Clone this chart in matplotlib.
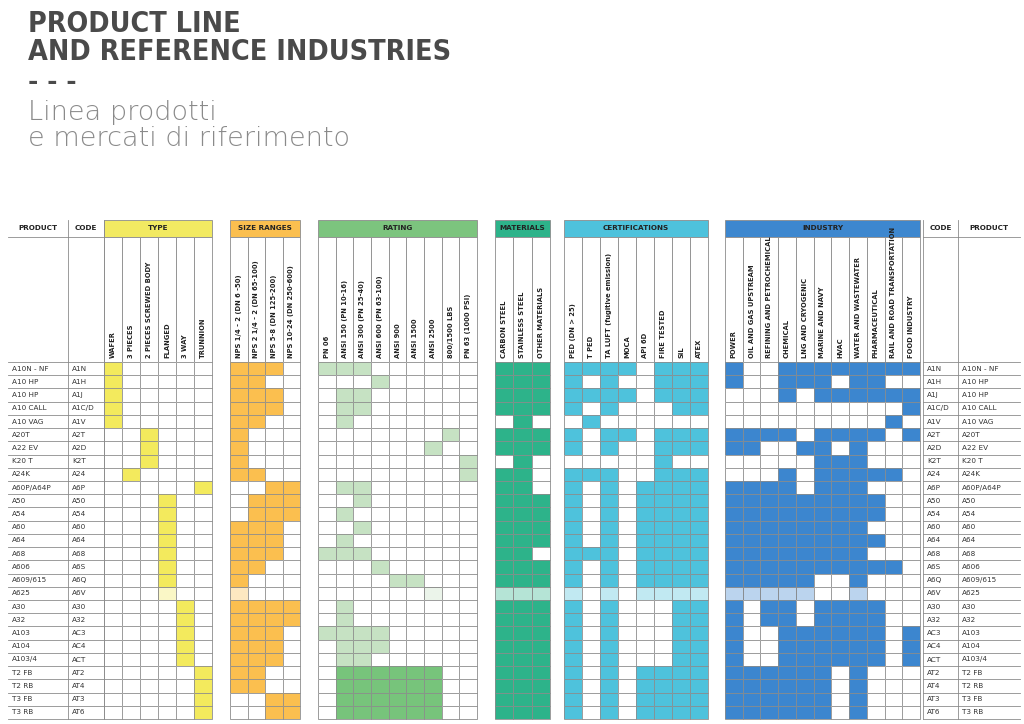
import matplotlib.pyplot as plt
from matplotlib.patches import Rectangle

plt.rcParams['font.family'] = ['DejaVu Sans']

products = ["A10N - NF", "A10 HP", "A10 HP", "A10 CALL", "A10 VAG", "A20T", "A22 EV", "K20 T",
            "A24K", "A60P/A64P", "A50", "A54", "A60", "A64", "A68", "A606", "A609/615", "A625",
            "A30", "A32", "A103", "A104", "A103/4", "T2 FB", "T2 RB", "T3 FB", "T3 RB"]
codes = ["A1N", "A1H", "A1J", "A1C/D", "A1V", "A2T", "A2D", "K2T", "A24", "A6P", "A50", "A54",
         "A60", "A64", "A68", "A6S", "A6Q", "A6V", "A30", "A32", "AC3", "AC4", "ACT", "AT2",
         "AT4", "AT3", "AT6"]
light_row = 17  # A625 shown faded

ALL = "all"
# each group: title, x0, x1, header colour, cell colour, column labels, filled columns per row
groups = [
    ("TYPE", 104, 212, "#f2ea62", "#f3ea5d",
     ["WAFER", "3 PIECES", "2 PIECES SCREWED BODY", "FLANGED", "3 WAY", "TRUNNION"],
     [[0], [0], [0], [0], [0], [2], [2], [2], [1], [5], [3], [3], [3], [3], [3], [3], [3], [3],
      [4], [4], [4], [4], [4], [5], [5], [5], [5]]),
    ("SIZE RANGES", 230, 300, "#fbbf4f", "#fbbf4f",
     ["NPS 1/4 - 2 (DN 6 -50)", "NPS 2 1/4 - 2 (DN 65-100)", "NPS 5-8 (DN 125-200)",
      "NPS 10-24 (DN 250-600)"],
     [[0, 1, 2], [0, 1], [0, 1, 2], [0, 1, 2], [0, 1], [0], [0], [0], [0, 1], [2, 3],
      [1, 2, 3], [1, 2, 3], [0, 1, 2], [0, 1, 2], [0, 1, 2], [0, 1], [0], [0],
      [0, 1, 2, 3], [0, 1, 2, 3], [0, 1, 2], [0, 1, 2], [0, 1, 2], [0, 1], [0, 1], [2, 3], [2, 3]]),
    ("RATING", 318, 477, "#7cc47e", "#c6e2c3",
     ["PN 06", "ANSI 150 (PN 10-16)", "ANSI 300 (PN 25-40)", "ANSI 600 (PN 63-100)", "ANSI 900",
      "ANSI 1500", "ANSI 2500", "800/1500 LBS", "PN 63 (1000 PSI)"],
     [[0, 1, 2], [3], [1, 2], [1, 2], [1], [7], [6], [8], [8], [1, 2], [2], [1], [2], [1],
      [0, 1, 2], [3], [4, 5], [6], [1], [1], [0, 1, 2, 3], [1, 2, 3], [1, 2],
      [1, 2, 3, 4, 5, 6], [1, 2, 3, 4, 5, 6], [1, 2, 3, 4, 5, 6], [1, 2, 3, 4, 5, 6]]),
    ("MATERIALS", 495, 550, "#2db38a", "#2db38a",
     ["CARBON STEEL", "STAINLESS STEEL", "OTHER MATERIALS"],
     [ALL, ALL, ALL, ALL, [1], ALL, ALL, [1], [0, 1], [0, 1], ALL, ALL, ALL, ALL, [0, 1], ALL,
      ALL, ALL, ALL, ALL, ALL, ALL, ALL, ALL, ALL, ALL, ALL]),
    ("CERTIFICATIONS", 564, 708, "#4ec2dc", "#4ec2dc",
     ["PED (DN > 25)", "T PED", "TA LUFT (fugitive emission)", "MOCA", "API 6D", "FIRE TESTED",
      "SIL", "ATEX"],
     [[0, 1, 2, 3, 5, 6, 7], [0, 2, 5, 6, 7], [0, 1, 2, 3, 5, 6, 7], [0, 2, 6, 7], [1],
      [0, 2, 3, 5, 6, 7], [0, 2, 5, 6, 7], [5], [0, 1, 2, 5, 6, 7]]
     + [[0, 2, 4, 5, 6, 7]] * 5 + [[0, 1, 2, 4, 5, 6, 7]] + [[0, 2, 4, 5, 6, 7]] * 3
     + [[0, 2, 6, 7]] * 5 + [[0, 2, 4, 5, 6, 7]] * 4),
    ("INDUSTRY", 725, 920, "#3d87cf", "#3c86cf",
     ["POWER", "OIL AND GAS UPSTREAM", "REFINING AND PETROCHEMICAL", "CHEMICAL", "LNG AND CRYOGENIC",
      "MARINE AND NAVY", "HVAC", "WATER AND WASTEWATER", "PHARMACEUTICAL",
      "RAIL AND ROAD TRANSPORTATION", "FOOD INDUSTRY"],
     [[0, 3, 4, 5, 6, 7, 8, 9, 10], [0, 3, 4, 5, 7, 8], [3, 5, 6, 7, 8, 9, 10], [10], [9],
      [0, 1, 2, 3, 5, 6, 7, 8, 10], [0, 1, 4, 5, 7], [5, 6, 7], [3, 5, 6, 7, 8, 9],
      [0, 1, 2, 3, 5, 6, 7], list(range(9)), list(range(9)), list(range(8)), list(range(9)),
      list(range(8)), list(range(10)), [0, 1, 2, 3, 4, 7], [0, 1, 2, 3, 4, 7],
      [0, 2, 3, 5, 6, 7, 8], [0, 2, 3, 5, 6, 7, 8]]
     + [[0, 3, 4, 5, 6, 7, 8, 10]] * 3 + [[0, 1, 2, 3, 4, 5, 7]] * 4),
]

fig = plt.figure(figsize=(10.24, 7.24), dpi=100)
ax = fig.add_axes([0, 0, 1, 1])
ax.set_xlim(0, 1024)
ax.set_ylim(724, 0)
ax.axis('off')

# Titles
ax.text(28, 10, "PRODUCT LINE\nAND REFERENCE INDUSTRIES", fontsize=20.5, fontweight='bold',
        color='#4a4a4a', va='top', linespacing=1.0, fontstretch='condensed')
ax.text(28, 70, "- - -", fontsize=18, fontweight='bold', color='#4a4a4a', va='top')
ax.text(28, 100, "Linea prodotti\ne mercati di riferimento", fontsize=19.5, color='#8a8a8a',
        va='top', linespacing=1.05, fontweight='light')

grid = '#8c8c8c'
head_top, head_bot, col_bot = 220, 237, 362
row_h = (719 - col_bot) / len(products)
tfs = 5.2

def row_y(i):
    return col_bot + i * row_h

# text columns left and right
for x0, x1, label, vals in [(8, 68, "PRODUCT", products), (68, 104, "CODE", codes),
                            (923, 958, "CODE", codes), (958, 1020, "PRODUCT", products)]:
    ax.text((x0 + x1) / 2, (head_top + head_bot) / 2, label, fontsize=tfs, fontweight='bold',
            ha='center', va='center', color='#222222')
    ax.plot([x0, x1], [head_bot, head_bot], color=grid, lw=0.6)
    for i, v in enumerate(vals):
        y = row_y(i)
        ax.text(x0 + 4, y + row_h / 2, v, fontsize=tfs, va='center', color='#333333')
        ax.plot([x0, x1], [y, y], color=grid, lw=0.6)
    ax.plot([x0, x1], [row_y(len(vals))] * 2, color=grid, lw=0.6)
for x in [68, 104, 923, 958]:
    ax.plot([x, x], [head_top, 719], color=grid, lw=0.6)

for title, x0, x1, hcol, ccol, labels, fills in groups:
    n = len(labels)
    w = (x1 - x0) / n
    ax.add_patch(Rectangle((x0, head_top), x1 - x0, head_bot - head_top, facecolor=hcol,
                           edgecolor=grid, lw=0.6))
    ax.text((x0 + x1) / 2, (head_top + head_bot) / 2, title, fontsize=tfs, fontweight='bold',
            ha='center', va='center', color='#222222')
    for j, lab in enumerate(labels):
        ax.add_patch(Rectangle((x0 + j * w, head_bot), w, col_bot - head_bot, facecolor='white',
                               edgecolor=grid, lw=0.6))
        ax.text(x0 + j * w + w / 2, col_bot - 4, lab, fontsize=4.9, rotation=90, ha='center',
                va='bottom', color='#222222', fontweight='bold')
    for i, f in enumerate(fills):
        cols = range(n) if f == ALL else f
        for j in range(n):
            fc = 'white'
            alpha = 1
            if j in cols:
                fc = ccol
                if title == "RATING" and i >= 23:
                    fc = '#77c47b'
                if i == light_row:
                    alpha = 0.35
            ax.add_patch(Rectangle((x0 + j * w, row_y(i)), w, row_h, facecolor=fc, alpha=alpha,
                                   edgecolor='none'))
            ax.add_patch(Rectangle((x0 + j * w, row_y(i)), w, row_h, facecolor='none',
                                   edgecolor=grid, lw=0.6))

fig.savefig("out.png", dpi=100)
